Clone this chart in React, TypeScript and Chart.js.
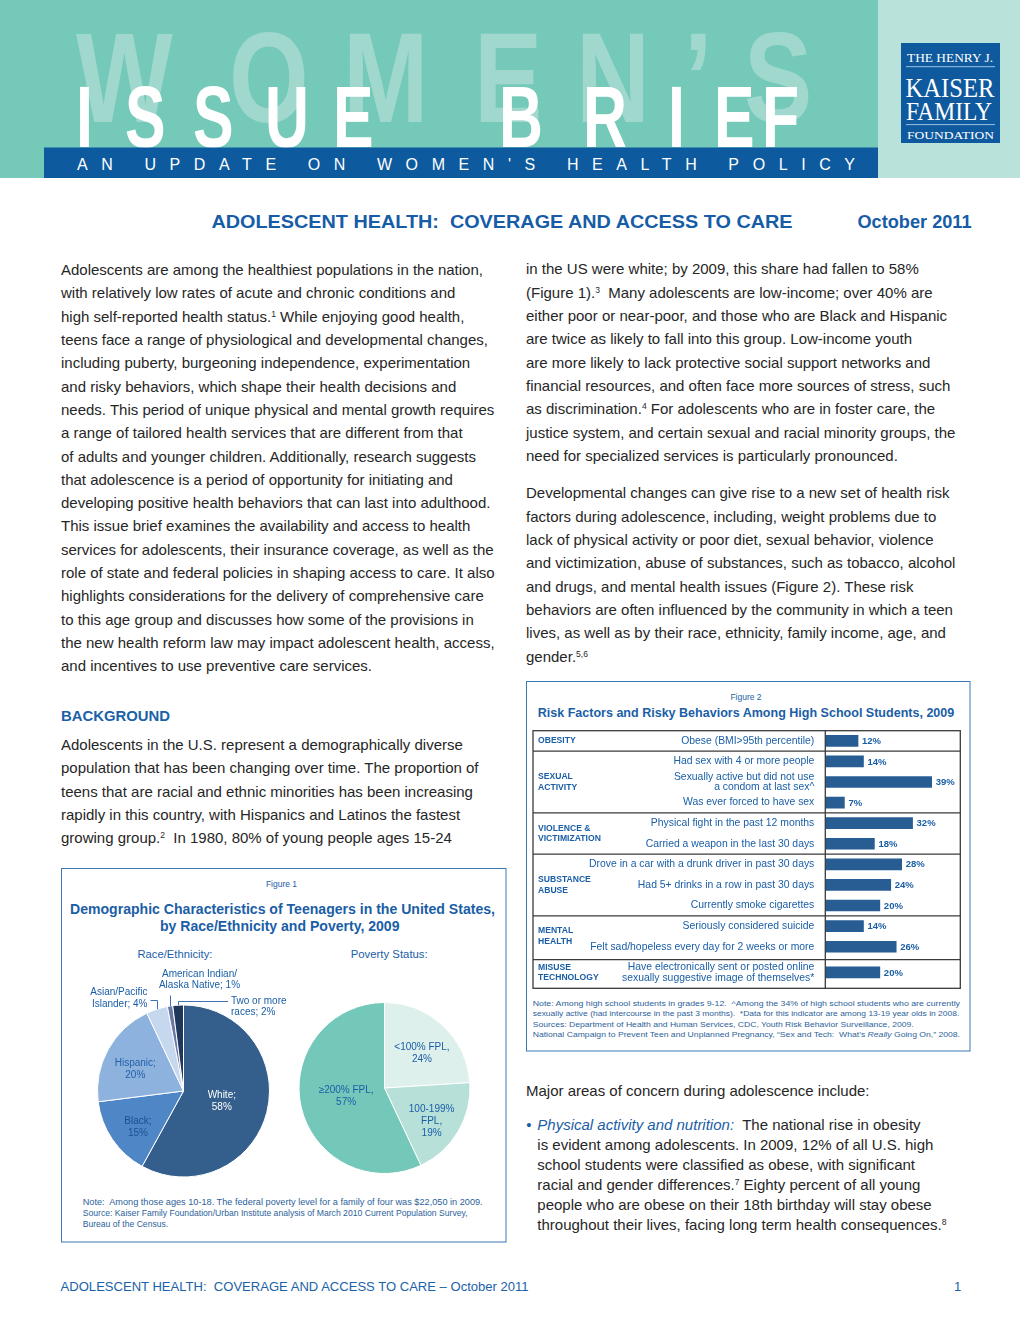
import React, { useEffect, useRef } from 'react';
import { Chart, registerables } from 'chart.js';

Chart.register(...registerables);

const FONT = '"Liberation Sans", Arial, Helvetica, sans-serif';
const SERIF = '"Liberation Serif", "Times New Roman", serif';
const BLUE = '#1a5ea6';
const NOTE = '#2d5f9a';
const TEXT = '#262626';

// ---------------- Figure 1 data ----------------
const raceLabels = ['White', 'Black', 'Hispanic', 'Asian/Pacific Islander', 'American Indian/Alaska Native', 'Two or more races'];
const raceValues = [58, 15, 20, 4, 1, 2];
const raceColors = ['#345e8c', '#4e86c6', '#8eb2de', '#c5d8ee', '#6b78a6', '#1e375a'];
const raceInside = [['White;', '58%'], ['Black;', '15%'], ['Hispanic;', '20%'], null, null, null];
const raceInsideColors = ['#ffffff', '#1d4f91', '#2260a8', BLUE, BLUE, BLUE];
const raceOutside = [null, null, null, ['Asian/Pacific', 'Islander; 4%'], ['American Indian/', 'Alaska Native; 1%'], ['Two or more', 'races; 2%']];

const povertyLabels = ['<100% FPL', '100-199% FPL', '\u2265200% FPL'];
const povertyValues = [24, 19, 57];
const povertyColors = ['#def0ec', '#b6e0d8', '#74c8b9'];
const povertyInside = [['<100% FPL,', '24%'], ['100-199%', 'FPL,', '19%'], ['\u2265200% FPL,', '57%']];
const povertyInsideColors = [BLUE, BLUE, BLUE];

// ---------------- Figure 2 data ----------------
const riskGroups = [['OBESITY'], ['SEXUAL', 'ACTIVITY'], ['VIOLENCE &', 'VICTIMIZATION'], ['SUBSTANCE', 'ABUSE'], ['MENTAL', 'HEALTH'], ['MISUSE', 'TECHNOLOGY']];
const riskItems = [
  ['Obese (BMI>95th percentile)'],
  ['Had sex with 4 or more people'],
  ['Sexually active but did not use', 'a condom at last sex^'],
  ['Was ever forced to have sex'],
  ['Physical fight in the past 12 months'],
  ['Carried a weapon in the last 30 days'],
  ['Drove in a car with a drunk driver in past 30 days'],
  ['Had 5+ drinks in a row in past 30 days'],
  ['Currently smoke cigarettes'],
  ['Seriously considered suicide'],
  ['Felt sad/hopeless every day for 2 weeks or more'],
  ['Have electronically sent or posted online', 'sexually suggestive image of themselves*'],
];
const riskItemGroup = [0, 1, 1, 1, 2, 2, 3, 3, 3, 4, 4, 5];
const riskValues = [12, 14, 39, 7, 32, 18, 28, 24, 20, 14, 26, 20];

// row index positions (last row has a taller two-line cell)
const rowPos = riskItems.map((_, i) => i + (i === riskItems.length - 1 ? 0.25 : 0));

// ---------------- plugins ----------------
const sliceLabelPlugin = {
  id: 'sliceLabels',
  afterDatasetsDraw(chart: any, _a: any, opts: any) {
    const meta = chart.getDatasetMeta(0);
    const values = chart.data.datasets[0].data;
    const ctx = chart.ctx;
    ctx.save();
    ctx.font = `10px ${FONT}`;
    ctx.textAlign = 'center';
    ctx.textBaseline = 'middle';
    meta.data.forEach((arc: any, i: number) => {
      const lines = opts.lines ? opts.lines[i] : null;
      if (!lines) return;
      const p = arc.getProps(['x', 'y', 'startAngle', 'endAngle', 'outerRadius'], true);
      const mid = (p.startAngle + p.endAngle) / 2;
      const r = p.outerRadius * (values[i] > 50 ? 0.46 : 0.64);
      const cx = p.x + Math.cos(mid) * r;
      const cy = p.y + Math.sin(mid) * r + (values[i] > 50 ? 0 : 5);
      ctx.fillStyle = opts.colors[i];
      lines.forEach((ln: string, k: number) => ctx.fillText(ln, cx, cy + (k - (lines.length - 1) / 2) * 12));
    });
    ctx.restore();
  },
};

const calloutPlugin = {
  id: 'callouts',
  afterDraw(chart: any, _a: any, opts: any) {
    const items = opts.items || [];
    if (!items.length) return;
    const meta = chart.getDatasetMeta(0);
    const ctx = chart.ctx;
    ctx.save();
    ctx.strokeStyle = '#3f72b2';
    ctx.lineWidth = 1;
    ctx.font = `10px ${FONT}`;
    ctx.fillStyle = BLUE;
    ctx.textBaseline = 'middle';
    items.forEach((it: any) => {
      const p = meta.data[it.index].getProps(['x', 'y', 'startAngle', 'endAngle', 'outerRadius'], true);
      const mid = (p.startAngle + p.endAngle) / 2;
      const ax = Math.round(p.x + Math.cos(mid) * p.outerRadius) + 0.5;
      const ay = p.y + Math.sin(mid) * p.outerRadius;
      const ey = Math.round(p.y + it.elbowDy) + 0.5;
      ctx.beginPath();
      ctx.moveTo(ax, ay);
      ctx.lineTo(ax, ey);
      if (it.endDx != null) ctx.lineTo(p.x + it.endDx, ey);
      ctx.stroke();
      ctx.textAlign = it.align;
      it.lines.forEach((ln: string, k: number) =>
        ctx.fillText(ln, p.x + it.textDx, p.y + it.textDy + (k - (it.lines.length - 1) / 2) * 11.5));
    });
    ctx.restore();
  },
};

const riskTablePlugin = {
  id: 'riskTable',
  afterDraw(chart: any) {
    const { ctx, chartArea, scales } = chart;
    const y = scales.y;
    const left = chart.options.layout.padding.left;
    ctx.save();
    ctx.strokeStyle = '#3a3a3a';
    ctx.lineWidth = 1.3;
    ctx.strokeRect(left, chartArea.top, chartArea.right - left, chartArea.bottom - chartArea.top);
    ctx.beginPath();
    ctx.moveTo(chartArea.left, chartArea.top);
    ctx.lineTo(chartArea.left, chartArea.bottom);
    ctx.stroke();
    for (let g = 0; g < riskGroups.length - 1; g++) {
      const last = riskItemGroup.lastIndexOf(g);
      const next = riskItemGroup.indexOf(g + 1);
      const py = y.getPixelForValue((rowPos[last] + rowPos[next]) / 2);
      ctx.beginPath();
      ctx.moveTo(left, py);
      ctx.lineTo(chartArea.right, py);
      ctx.stroke();
    }
    ctx.font = `bold 8.6px ${FONT}`;
    ctx.fillStyle = BLUE;
    ctx.textAlign = 'left';
    ctx.textBaseline = 'middle';
    riskGroups.forEach((lines, g) => {
      const first = riskItemGroup.indexOf(g);
      const last = riskItemGroup.lastIndexOf(g);
      const py = y.getPixelForValue((rowPos[first] + rowPos[last]) / 2);
      lines.forEach((ln, k) => ctx.fillText(ln, left + 5, py + (k - (lines.length - 1) / 2) * 10.6));
    });
    ctx.restore();
  },
  afterDatasetsDraw(chart: any) {
    const ctx = chart.ctx;
    const meta = chart.getDatasetMeta(0);
    ctx.save();
    ctx.font = `bold 9.5px ${FONT}`;
    ctx.fillStyle = BLUE;
    ctx.textAlign = 'left';
    ctx.textBaseline = 'middle';
    meta.data.forEach((bar: any, i: number) => {
      ctx.fillText(`${riskValues[i]}%`, bar.x + 4, bar.y + 0.5);
    });
    ctx.restore();
  },
};

// ---------------- chart components ----------------
function PieChart(props: any) {
  const ref = useRef<HTMLCanvasElement>(null);
  const { labels, values, colors, inside, insideColors, callouts, left, top, width, height, padding, radius } = props;
  useEffect(() => {
    const chart = new Chart(ref.current as HTMLCanvasElement, {
      type: 'pie',
      data: {
        labels,
        datasets: [{ data: values, backgroundColor: colors, borderColor: '#ffffff', borderWidth: 1, radius } as any],
      },
      options: {
        animation: false,
        responsive: false,
        events: [],
        layout: { padding },
        plugins: {
          legend: { display: false },
          tooltip: { enabled: false },
          sliceLabels: { lines: inside, colors: insideColors },
          callouts: { items: callouts },
        } as any,
      },
      plugins: [sliceLabelPlugin, calloutPlugin],
    });
    return () => chart.destroy();
  }, []);
  return <canvas ref={ref} width={width} height={height} style={{ position: 'absolute', left, top, width, height }} />;
}

function RiskChart() {
  const ref = useRef<HTMLCanvasElement>(null);
  useEffect(() => {
    const chart = new Chart(ref.current as HTMLCanvasElement, {
      type: 'bar',
      data: {
        datasets: [{
          data: riskValues.map((v, i) => ({ x: v, y: rowPos[i] })),
          backgroundColor: '#275d92',
          barThickness: 11,
        } as any],
      },
      options: {
        indexAxis: 'y',
        animation: false,
        responsive: false,
        events: [],
        layout: { padding: { left: 5, top: 22.7, right: 7.7, bottom: 17.7 } },
        scales: {
          x: { type: 'linear', display: false, min: 0, max: 49.5 },
          y: {
            type: 'linear',
            reverse: true,
            offset: false,
            min: -0.4905,
            max: 12.02,
            afterBuildTicks: (scale: any) => { scale.ticks = rowPos.map((v) => ({ value: v })); },
            afterFit: (scale: any) => { scale.width = 292.3; },
            grid: { display: false, drawTicks: false },
            border: { display: false },
            ticks: {
              autoSkip: false,
              padding: 11,
              color: BLUE,
              font: { family: FONT, size: 10.4, lineHeight: 1.02 },
              callback: (_v: any, i: number) => riskItems[i],
            },
          } as any,
        },
        plugins: { legend: { display: false }, tooltip: { enabled: false } },
      },
      plugins: [riskTablePlugin],
    });
    return () => chart.destroy();
  }, []);
  return <canvas ref={ref} width={440} height={298} style={{ position: 'absolute', left: 528, top: 708, width: 440, height: 298 }} />;
}

// ---------------- text helpers ----------------
function T(p: any) {
  const { x, y, size, children, fill = BLUE, bold = false, len, anchor, family = FONT, italic = false, adjust = 'spacingAndGlyphs' } = p;
  return (
    <text x={x} y={y} fontSize={size} fill={fill} fontFamily={family} fontWeight={bold ? 'bold' : 'normal'}
      fontStyle={italic ? 'italic' : 'normal'} textLength={len} lengthAdjust={len ? adjust : undefined}
      textAnchor={anchor} style={{ whiteSpace: 'pre' }}>{children}</text>
  );
}

const Sup = ({ c }: any) => <span style={{ fontSize: 8.5, verticalAlign: '5px', lineHeight: 0 }}>{c}</span>;

function Para({ x, baseline, lh, lines }: any) {
  const top = baseline - lh / 2 - 5.2;
  return (
    <div style={{ position: 'absolute', left: x, top, fontSize: 15, color: TEXT, lineHeight: `${lh}px`, whiteSpace: 'pre', fontFamily: FONT }}>
      {lines.map((l: any, i: number) => <div key={i} style={{ height: lh }}>{l}</div>)}
    </div>
  );
}

const womenX = [76, 229, 343, 474, 576, 684, 744];
const issueX = [76, 125, 193, 265, 333, 499, 583, 668, 714, 762];

export default function App() {
  const leftLines1 = [
    'Adolescents are among the healthiest populations in the nation,',
    'with relatively low rates of acute and chronic conditions and',
    <>high self-reported health status.<Sup c="1" /> While enjoying good health,</>,
    'teens face a range of physiological and developmental changes,',
    'including puberty, burgeoning independence, experimentation',
    'and risky behaviors, which shape their health decisions and',
    'needs. This period of unique physical and mental growth requires',
    'a range of tailored health services that are different from that',
    'of adults and younger children. Additionally, research suggests',
    'that adolescence is a period of opportunity for initiating and',
    'developing positive health behaviors that can last into adulthood.',
    'This issue brief examines the availability and access to health',
    'services for adolescents, their insurance coverage, as well as the',
    'role of state and federal policies in shaping access to care. It also',
    'highlights considerations for the delivery of comprehensive care',
    'to this age group and discusses how some of the provisions in',
    'the new health reform law may impact adolescent health, access,',
    'and incentives to use preventive care services.',
  ];
  const bgLines = [
    'Adolescents in the U.S. represent a demographically diverse',
    'population that has been changing over time. The proportion of',
    'teens that are racial and ethnic minorities has been increasing',
    'rapidly in this country, with Hispanics and Latinos the fastest',
    <>growing group.<Sup c="2" />  In 1980, 80% of young people ages 15-24</>,
  ];
  const rightLines1 = [
    'in the US were white; by 2009, this share had fallen to 58%',
    <>(Figure 1).<Sup c="3" />  Many adolescents are low-income; over 40% are</>,
    'either poor or near-poor, and those who are Black and Hispanic',
    'are twice as likely to fall into this group. Low-income youth',
    'are more likely to lack protective social support networks and',
    'financial resources, and often face more sources of stress, such',
    <>as discrimination.<Sup c="4" /> For adolescents who are in foster care, the</>,
    'justice system, and certain sexual and racial minority groups, the',
    'need for specialized services is particularly pronounced.',
  ];
  const rightLines2 = [
    'Developmental changes can give rise to a new set of health risk',
    'factors during adolescence, including, weight problems due to',
    'lack of physical activity or poor diet, sexual behavior, violence',
    'and victimization, abuse of substances, such as tobacco, alcohol',
    'and drugs, and mental health issues (Figure 2). These risk',
    'behaviors are often influenced by the community in which a teen',
    'lives, as well as by their race, ethnicity, family income, age, and',
    <>gender.<Sup c="5,6" /></>,
  ];
  const bulletLines = [
    <><span style={{ position: 'absolute', left: -11, color: BLUE }}>{'\u2022'}</span><span style={{ color: BLUE, fontStyle: 'italic' }}>Physical activity and nutrition:</span>  The national rise in obesity</>,
    'is evident among adolescents. In 2009, 12% of all U.S. high',
    'school students were classified as obese, with significant',
    <>racial and gender differences.<Sup c="7" /> Eighty percent of all young</>,
    'people who are obese on their 18th birthday will stay obese',
    <>throughout their lives, facing long term health consequences.<Sup c="8" /></>,
  ];

  const raceCallouts = [
    { index: 3, lines: raceOutside[3], elbowDy: -91, endDx: -33, textDx: -36, textDy: -93, align: 'right' },
    { index: 4, lines: raceOutside[4], elbowDy: -96, endDx: null, textDx: 16, textDy: -111.5, align: 'center' },
    { index: 5, lines: raceOutside[5], elbowDy: -90, endDx: 44.5, textDx: 47.5, textDy: -84.5, align: 'left' },
  ];

  return (
    <div style={{ position: 'absolute', left: 0, top: 0, width: 1020, height: 1320, background: '#ffffff', overflow: 'hidden', fontFamily: FONT }}>
      <svg width={1020} height={1320} style={{ position: 'absolute', left: 0, top: 0 }}>
        {/* header */}
        <rect x={0} y={0} width={878} height={178} fill="#74c9b9" />
        <rect x={878} y={0} width={142} height={178} fill="#b9e2db" />
        <g transform="scale(0.8,1)">
          <text x={womenX.map((v) => v / 0.8).join(' ')} y={122} fontSize={128} fontWeight="bold" fill="#a0d8ce" fontFamily={FONT}>{'WOMEN\u2019S'}</text>
        </g>
        <g transform="scale(0.7,1)">
          <text x={issueX.map((v) => v / 0.7).join(' ')} y={147} fontSize={87} fontWeight="bold" fill="#ffffff" fontFamily={FONT}>ISSUEBRIEF</text>
        </g>
        <rect x={44} y={147.5} width={834} height={30.5} fill="#0d5a9f" />
        <T x={77} y={170} size={16} fill="#ffffff" len={778} adjust="spacing">AN UPDATE ON WOMEN'S HEALTH POLICY</T>
        {/* Kaiser logo */}
        <rect x={901} y={43} width={99} height={100} fill="#0f5a9e" />
        <T x={907} y={62} size={12} fill="#ffffff" family={SERIF} len={86}>THE HENRY J.</T>
        <line x1={906} y1={66.7} x2={995} y2={66.7} stroke="#9cc0e3" strokeWidth={1} />
        <T x={905.5} y={96.5} size={28} fill="#ffffff" family={SERIF} len={89}>KAISER</T>
        <T x={906} y={120} size={26} fill="#ffffff" family={SERIF} len={86}>FAMILY</T>
        <line x1={906} y1={124.6} x2={995} y2={124.6} stroke="#9cc0e3" strokeWidth={1} />
        <T x={907} y={138.5} size={11} fill="#ffffff" family={SERIF} len={87}>FOUNDATION</T>

        {/* title */}
        <T x={211.5} y={227.5} size={18} bold len={581} fill="#165ca6">ADOLESCENT HEALTH:  COVERAGE AND ACCESS TO CARE</T>
        <T x={857.5} y={227.5} size={18} bold len={114} fill="#165ca6">October 2011</T>

        <T x={61} y={721} size={15} bold fill="#1a62a8" len={109}>BACKGROUND</T>

        {/* Figure 2 frame and texts */}
        <rect x={526.5} y={681.5} width={443.5} height={369.5} fill="none" stroke="#3b78b5" strokeWidth={1} />
        <T x={746} y={700} size={8.5} anchor="middle">Figure 2</T>
        <T x={537.7} y={717.3} size={13} bold len={416.6}>Risk Factors and Risky Behaviors Among High School Students, 2009</T>
        <T x={532.7} y={1006} size={8} fill={NOTE} len={427.3}>Note: Among high school students in grades 9-12.  ^Among the 34% of high school students who are currently</T>
        <T x={532.7} y={1016.3} size={8} fill={NOTE} len={426.6}>sexually active (had intercourse in the past 3 months).  *Data for this indicator are among 13-19 year olds in 2008.</T>
        <T x={532.7} y={1026.7} size={8} fill={NOTE} len={381}>Sources: Department of Health and Human Services, CDC, Youth Risk Behavior Surveillance, 2009.</T>
        <text x={532.7} y={1037} fontSize={8} fill={NOTE} fontFamily={FONT} textLength={427.3} lengthAdjust="spacingAndGlyphs" style={{ whiteSpace: 'pre' }}>
          {'National Campaign to Prevent Teen and Unplanned Pregnancy, \u201CSex and Tech:  What\u2019s '}
          <tspan fontStyle="italic">Really</tspan>
          {' Going On,\u201D 2008.'}
        </text>

        {/* Figure 1 frame and texts */}
        <rect x={61.5} y={868.5} width={444.5} height={373.5} fill="none" stroke="#3b78b5" strokeWidth={1} />
        <T x={281.5} y={886.5} size={8.5} anchor="middle">Figure 1</T>
        <T x={70} y={913.5} size={14} bold len={425}>Demographic Characteristics of Teenagers in the United States,</T>
        <T x={160} y={930.5} size={14} bold len={239.5}>by Race/Ethnicity and Poverty, 2009</T>
        <T x={137.5} y={958} size={10} len={75}>Race/Ethnicity:</T>
        <T x={350.7} y={958} size={10} len={77}>Poverty Status:</T>
        <T x={82.7} y={1205} size={8.2} fill={NOTE} len={400}>Note:  Among those ages 10-18. The federal poverty level for a family of four was $22,050 in 2009.</T>
        <T x={82.7} y={1216} size={8.2} fill={NOTE} len={385}>Source: Kaiser Family Foundation/Urban Institute analysis of March 2010 Current Population Survey,</T>
        <T x={82.7} y={1226.5} size={8.2} fill={NOTE} len={85.5}>Bureau of the Census.</T>

        {/* footer */}
        <T x={60.6} y={1291} size={13} fill="#1a62a8" len={468}>{'ADOLESCENT HEALTH:  COVERAGE AND ACCESS TO CARE \u2013 October 2011'}</T>
        <T x={954} y={1291} size={13} fill="#1a62a8">1</T>
      </svg>

      <Para x={61} baseline={275} lh={23.3} lines={leftLines1} />
      <Para x={61} baseline={750} lh={23.3} lines={bgLines} />
      <Para x={526} baseline={274.3} lh={23.3} lines={rightLines1} />
      <Para x={526} baseline={498.3} lh={23.3} lines={rightLines2} />
      <Para x={526} baseline={1095.7} lh={23.3} lines={['Major areas of concern during adolescence include:']} />
      <Para x={537.3} baseline={1130} lh={20} lines={bulletLines} />

      <RiskChart />
      <PieChart
        labels={raceLabels} values={raceValues} colors={raceColors}
        inside={raceInside} insideColors={raceInsideColors} callouts={raceCallouts}
        left={62} top={960} width={240} height={230}
        padding={{ left: 35.5, top: 45, right: 32.5, bottom: 13 }} radius={86}
      />
      <PieChart
        labels={povertyLabels} values={povertyValues} colors={povertyColors}
        inside={povertyInside} insideColors={povertyInsideColors} callouts={[]}
        left={290} top={990} width={190} height={190}
        padding={{ left: 8.5, top: 12, right: 9.5, bottom: 6 }} radius={85.5}
      />
    </div>
  );
}
